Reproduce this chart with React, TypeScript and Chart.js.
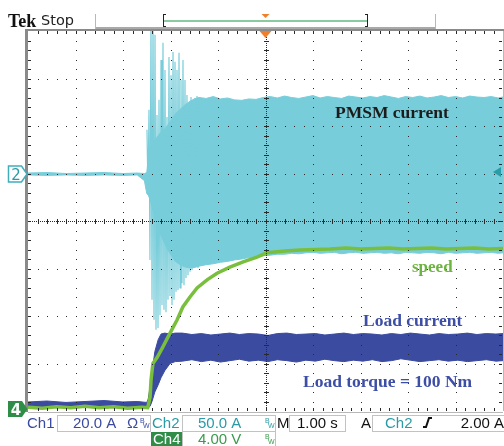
import React, { useEffect, useRef } from 'react';
import { Chart, registerables } from 'chart.js';

Chart.register(...registerables);

// Horizontal: 1.00 s/div, 10 divisions, trigger point at the centre
const TIME_MIN = -5;
const TIME_MAX = 5;
// Vertical: screen divisions, 8 divisions, centre line = 0
const DIV_MIN = -4;
const DIV_MAX = 4;

// Ch2 – PMSM phase current, envelope of the fast oscillation (div)
const PMSM_T = [
  -5.0, -4.6, -4.2, -3.8, -3.4, -3.0, -2.7, -2.55, -2.5,
  -2.47, -2.43, -2.33, -2.22, -2.11, -2.0, -1.9, -1.8, -1.69, -1.59, -1.5,
  -1.4, -1.25, -1.1, -0.95, -0.8, -0.65, -0.5, -0.35, -0.2, -0.05,
  0.1, 0.25, 0.4, 0.55, 0.7, 0.85, 1.0, 1.15, 1.3, 1.45,
  1.6, 1.75, 1.9, 2.05, 2.2, 2.35, 2.5, 2.65, 2.8, 2.95,
  3.1, 3.25, 3.4, 3.55, 3.7, 3.85, 4.0, 4.15, 4.3, 4.45,
  4.6, 4.75, 4.9, 5.0,
];
const PMSM_HI = [
  1.01, 1.02, 1.0, 1.01, 1.02, 1.0, 1.01, 1.0, 1.02,
  1.3, 1.45, 1.7, 1.85, 1.95, 2.1, 2.25, 2.35, 2.45, 2.52, 2.57,
  2.6, 2.58, 2.62, 2.57, 2.59, 2.55, 2.54, 2.57, 2.56, 2.6,
  2.62, 2.59, 2.63, 2.6, 2.58, 2.61, 2.64, 2.59, 2.62, 2.6,
  2.58, 2.63, 2.61, 2.59, 2.62, 2.6, 2.64, 2.61, 2.58, 2.62,
  2.6, 2.63, 2.59, 2.61, 2.64, 2.6, 2.62, 2.59, 2.63, 2.61,
  2.6, 2.62, 2.59, 2.61,
];
const PMSM_LO = [
  0.97, 0.96, 0.97, 0.96, 0.97, 0.96, 0.97, 0.85, 0.58,
  0.55, 0.45, 0.1, -0.25, -0.5, -0.7, -0.85, -0.92, -0.97, -0.99, -0.98,
  -0.95, -0.92, -0.9, -0.87, -0.85, -0.82, -0.8, -0.77, -0.75, -0.73,
  -0.72, -0.7, -0.7, -0.68, -0.69, -0.67, -0.66, -0.68, -0.67, -0.66,
  -0.69, -0.67, -0.66, -0.68, -0.67, -0.66, -0.68, -0.67, -0.69, -0.66,
  -0.67, -0.68, -0.66, -0.67, -0.69, -0.66, -0.68, -0.67, -0.66, -0.68,
  -0.67, -0.66, -0.68, -0.67,
];

// Ch2 – start-up burst, successive peaks of the oscillation (div)
const BURST_T = [
  -2.495, -2.474, -2.453, -2.432, -2.411, -2.389, -2.368, -2.347, -2.326, -2.305,
  -2.284, -2.263, -2.242, -2.221, -2.2, -2.179, -2.158, -2.137, -2.116, -2.095,
  -2.074, -2.053, -2.032, -2.011, -1.989, -1.968, -1.947, -1.926, -1.905, -1.884,
  -1.863, -1.842, -1.821, -1.8, -1.779, -1.758, -1.737, -1.716, -1.695, -1.674,
  -1.653, -1.632, -1.611, -1.589, -1.568, -1.547, -1.526, -1.505, -1.484, -1.463,
  -1.442, -1.421, -1.4, -1.379,
];
const BURST_V = [
  1.92, 0.55, 2.34, -0.82, 4.2, -1.66, 4.2, -2.08, 3.92, -2.29,
  2.23, -2.25, 2.55, -1.98, 3.39, -1.77, 3.75, -1.87, 3.18, -1.92,
  2.19, -1.66, 3.45, -1.58, 3.07, -1.77, 3.56, -1.66, 3.35, -1.49,
  3.18, -1.45, 3.54, -1.41, 2.97, -1.31, 3.39, -1.35, 2.97, -1.2,
  2.65, -1.14, 2.34, -1.07, 2.61, -1.03, 2.13, -0.99, 2.59, -0.95,
  2.63, -0.99, 2.55, -0.93,
];

// Ch4 – speed (div)
const SPEED_T = [
  -5.0, -4.7, -4.4, -4.1, -3.8, -3.5, -3.2, -2.9, -2.6, -2.48,
  -2.45, -2.43, -2.41, -2.37, -2.28, -2.16, -2.01, -1.86, -1.74, -1.59,
  -1.44, -1.23, -1.02, -0.75, -0.47, -0.18, 0.03, 0.41, 0.73, 1.05,
  1.36, 1.7, 2.0, 2.3, 2.6, 2.9, 3.2, 3.5, 3.8, 4.1,
  4.4, 4.7, 5.0,
];
const SPEED_V = [
  -3.92, -3.94, -3.91, -3.93, -3.9, -3.93, -3.91, -3.94, -3.92, -3.93,
  -3.8, -3.7, -3.35, -3.0, -2.87, -2.65, -2.36, -2.08, -1.81, -1.6,
  -1.41, -1.24, -1.1, -0.97, -0.86, -0.76, -0.67, -0.63, -0.61, -0.6,
  -0.59, -0.57, -0.59, -0.58, -0.57, -0.59, -0.58, -0.57, -0.59, -0.58,
  -0.57, -0.59, -0.58,
];

// Ch1 – load current, envelope (div)
const LOAD_T = [
  -5.0, -4.6, -4.2, -3.8, -3.4, -3.0, -2.7, -2.5,
  -2.47, -2.43, -2.39, -2.33, -2.26, -2.2, -2.12, -2.01, -1.9,
  -1.75, -1.55, -1.35, -1.15, -0.95, -0.75, -0.55, -0.35, -0.15, 0.05,
  0.25, 0.45, 0.65, 0.85, 1.05, 1.25, 1.45, 1.65, 1.85, 2.05,
  2.25, 2.45, 2.65, 2.85, 3.05, 3.25, 3.45, 3.65, 3.85, 4.05,
  4.25, 4.45, 4.65, 4.85, 5.0,
];
const LOAD_HI = [
  -3.81, -3.79, -3.82, -3.8, -3.78, -3.81, -3.8, -3.82,
  -3.75, -3.5, -3.2, -2.75, -2.5, -2.38, -2.36, -2.38, -2.36,
  -2.36, -2.39, -2.37, -2.4, -2.38, -2.36, -2.39, -2.37, -2.38, -2.41,
  -2.37, -2.36, -2.39, -2.38, -2.37, -2.4, -2.38, -2.36, -2.39, -2.37,
  -2.38, -2.4, -2.37, -2.39, -2.36, -2.38, -2.4, -2.37, -2.39, -2.38,
  -2.36, -2.39, -2.37, -2.38, -2.37,
];
const LOAD_LO = [
  -3.91, -3.92, -3.9, -3.92, -3.91, -3.9, -3.92, -3.91,
  -3.93, -3.9, -3.8, -3.6, -3.45, -3.3, -3.15, -3.0, -2.96,
  -2.95, -2.92, -2.96, -2.93, -2.97, -2.94, -2.91, -2.95, -2.93, -2.96,
  -2.92, -2.94, -2.97, -2.93, -2.95, -2.91, -2.94, -2.96, -2.93, -2.95,
  -2.92, -2.96, -2.94, -2.9, -2.93, -2.96, -2.94, -2.92, -2.95, -2.93,
  -2.96, -2.94, -2.92, -2.95, -2.94,
];

const TEAL = '#78CDDA';
const GREEN = '#79BF3D';
const BLUE = '#3B4B9F';

const pts = (t: number[], v: number[]) => t.map((x, i) => ({ x, y: v[i] }));

const SERIF = '"Liberation Serif", "Times New Roman", serif';
const SANS = '"Liberation Sans", Arial, sans-serif';

const scopeFace = {
  id: 'scopeFace',
  afterDatasetsDraw(chart: any) {
    const ctx: CanvasRenderingContext2D = chart.ctx;
    const { left: L, right: R, top: T, bottom: B } = chart.chartArea;
    const dx = (R - L) / 10;
    const dy = (B - T) / 8;
    const px = (x: number, y: number, w = 1, h = 1) =>
      ctx.fillRect(Math.round(x), Math.round(y), w, h);
    const text = (s: string, x: number, y: number, font: string, color: string, align: CanvasTextAlign = 'left') => {
      ctx.font = font;
      ctx.fillStyle = color;
      ctx.textAlign = align;
      ctx.textBaseline = 'alphabetic';
      ctx.fillText(s, x, y);
    };
    ctx.save();

    // frame
    ctx.fillStyle = '#8a8a8a';
    ctx.fillRect(L - 3, T - 2, R - L + 4, 2);
    ctx.fillRect(L - 3, T - 2, 3, B - T + 3);
    ctx.fillStyle = '#b8b8b8';
    ctx.fillRect(R, T, 1, B - T);
    ctx.fillRect(L, B + 1, R - L, 1);

    // graticule
    ctx.fillStyle = '#2a2a2a';
    for (let i = 1; i < 10; i++) {
      if (i === 5) continue;
      for (let k = 1; k < 40; k++) px(L + i * dx, T + (k * dy) / 5);
    }
    for (let j = 1; j < 8; j++) {
      if (j === 4) continue;
      for (let k = 1; k < 50; k++) px(L + (k * dx) / 5, T + j * dy);
    }
    const cx = L + 5 * dx;
    const cy = T + 4 * dy;
    for (let y = T; y < B; y += 2) px(cx, y);
    for (let x = L; x < R; x += 2) px(x, cy);
    for (let k = 1; k < 40; k++) px(cx - 2, T + (k * dy) / 5, 5, 1);
    for (let k = 1; k < 50; k++) px(L + (k * dx) / 5, cy - 2, 1, 5);
    for (let k = 1; k < 50; k++) {
      px(L + (k * dx) / 5, T, 1, 3);
      px(L + (k * dx) / 5, B - 3, 1, 3);
    }
    for (let k = 1; k < 40; k++) {
      px(L, T + (k * dy) / 5, 3, 1);
      px(R - 4, T + (k * dy) / 5, 3, 1);
    }

    // trigger position marker
    ctx.fillStyle = '#F07F2C';
    ctx.beginPath();
    ctx.moveTo(cx - 6, T);
    ctx.lineTo(cx + 6, T);
    ctx.lineTo(cx, T + 7);
    ctx.closePath();
    ctx.fill();

    // trigger level marker (Ch2, 2.00 A)
    const lvlY = chart.scales.y.getPixelForValue(1.03);
    ctx.fillStyle = '#2A9CA8';
    ctx.beginPath();
    ctx.moveTo(R - 2, lvlY - 5);
    ctx.lineTo(R - 2, lvlY + 5);
    ctx.lineTo(R - 10, lvlY);
    ctx.closePath();
    ctx.fill();

    // channel ground markers
    const g2 = chart.scales.y.getPixelForValue(0.99);
    ctx.beginPath();
    ctx.moveTo(8.5, g2 - 8);
    ctx.lineTo(21.5, g2 - 8);
    ctx.lineTo(27, g2);
    ctx.lineTo(21.5, g2 + 8);
    ctx.lineTo(8.5, g2 + 8);
    ctx.closePath();
    ctx.fillStyle = '#ffffff';
    ctx.fill();
    ctx.strokeStyle = '#3FAEBB';
    ctx.lineWidth = 1.5;
    ctx.stroke();
    text('2', 16, g2 + 6, '15px "DejaVu Sans", sans-serif', '#2A9CA8', 'center');

    const g4 = chart.scales.y.getPixelForValue(-3.96);
    ctx.beginPath();
    ctx.moveTo(8, g4 - 8);
    ctx.lineTo(22, g4 - 8);
    ctx.lineTo(27.5, g4);
    ctx.lineTo(22, g4 + 8);
    ctx.lineTo(8, g4 + 8);
    ctx.closePath();
    ctx.fillStyle = '#2E8E47';
    ctx.fill();
    text('4', 16, g4 + 6, 'bold 15px "DejaVu Sans", sans-serif', '#ffffff', 'center');

    // trace labels
    text('PMSM current', 335, 118, `bold 17.5px ${SERIF}`, '#1c1c1c');
    text('speed', 412, 272, `bold 17px ${SERIF}`, '#6DB33F');
    text('Load current', 363, 326, `bold 17.5px ${SERIF}`, '#3D4EA6');
    text('Load torque = 100 Nm', 303, 387, `bold 17.5px ${SERIF}`, '#3D4EA6');

    // status line
    text('Tek', 8, 27, `bold 18px ${SERIF}`, '#111111');
    text('Stop', 41, 25, '14.5px "DejaVu Sans", sans-serif', '#222222');
    ctx.fillStyle = '#a9a9a9';
    ctx.fillRect(96, 27, 340, 2);
    ctx.fillStyle = '#b8b8b8';
    ctx.fillRect(95, 14, 1, 15);
    ctx.fillRect(435, 14, 1, 15);
    ctx.fillStyle = '#8CC9A0';
    ctx.fillRect(164, 20, 203, 2);
    ctx.fillStyle = '#222222';
    ctx.fillRect(163, 14, 1, 13);
    ctx.fillRect(163, 14, 3, 1);
    ctx.fillRect(163, 26, 3, 1);
    ctx.fillRect(367, 14, 1, 13);
    ctx.fillRect(365, 14, 3, 1);
    ctx.fillRect(365, 26, 3, 1);
    ctx.fillStyle = '#F07F2C';
    ctx.beginPath();
    ctx.moveTo(261.5, 14);
    ctx.lineTo(269.5, 14);
    ctx.lineTo(265.5, 18);
    ctx.closePath();
    ctx.fill();

    // readout boxes
    ctx.strokeStyle = '#c2c2c2';
    ctx.lineWidth = 1;
    ctx.strokeRect(57.5, 415.5, 93, 16);
    ctx.strokeRect(182.5, 415.5, 93, 16);
    ctx.strokeRect(289.5, 415.5, 56, 16);
    ctx.strokeRect(372.5, 415.5, 133, 16);
    ctx.strokeRect(182.5, 431.5, 93, 16);

    const F = `15px ${SANS}`;
    const bw = (x: number, y: number, c: string) => {
      text('B', x, y - 5, `7px ${SANS}`, c);
      text('W', x + 3, y, `7px ${SANS}`, c);
    };
    text('Ch1', 27, 428, F, '#3B4AA0');
    text('20.0 A', 73, 428, F, '#3B4AA0');
    text('\u03A9', 127, 428, F, '#3B4AA0');
    bw(140, 428, '#3B4AA0');
    text('Ch2', 152, 428, F, '#2A9BA6');
    text('50.0 A', 198, 428, F, '#2A9BA6');
    bw(265, 428, '#2A9BA6');
    text('M', 277, 428, F, '#111111');
    text('1.00 s', 297, 428, F, '#111111');
    text('A', 361, 428, F, '#111111');
    text('Ch2', 385, 428, F, '#2A9BA6');
    ctx.strokeStyle = '#111111';
    ctx.lineWidth = 2;
    ctx.beginPath();
    ctx.moveTo(423, 427);
    ctx.lineTo(426, 427);
    ctx.lineTo(429, 418);
    ctx.lineTo(432, 418);
    ctx.stroke();
    text('2.00 A', 504, 428, F, '#111111', 'right');

    ctx.fillStyle = '#2E8E47';
    ctx.fillRect(151, 432, 31, 14);
    text('Ch4', 153, 444, F, '#ffffff');
    text('4.00 V', 198, 444, F, '#3A9B4C');
    bw(265, 444, '#3A9B4C');

    ctx.restore();
  },
};

export default function App() {
  const canvasRef = useRef<HTMLCanvasElement | null>(null);

  useEffect(() => {
    const canvas = canvasRef.current;
    if (!canvas) return;
    const chart = new Chart(canvas, {
      type: 'line',
      data: {
        datasets: [
          {
            label: 'speed',
            data: pts(SPEED_T, SPEED_V),
            borderColor: GREEN,
            borderWidth: 3.5,
            fill: false,
            order: 0,
          },
          {
            label: 'load current max',
            data: pts(LOAD_T, LOAD_HI),
            borderColor: BLUE,
            backgroundColor: BLUE,
            borderWidth: 1,
            fill: '+1',
            order: 1,
          },
          {
            label: 'load current min',
            data: pts(LOAD_T, LOAD_LO),
            borderColor: BLUE,
            borderWidth: 1,
            fill: false,
            order: 1,
          },
          {
            label: 'PMSM start-up',
            data: pts(BURST_T, BURST_V),
            borderColor: TEAL,
            borderWidth: 1.2,
            fill: false,
            order: 2,
          },
          {
            label: 'PMSM current max',
            data: pts(PMSM_T, PMSM_HI),
            borderColor: TEAL,
            backgroundColor: TEAL,
            borderWidth: 1,
            fill: '+1',
            order: 3,
          },
          {
            label: 'PMSM current min',
            data: pts(PMSM_T, PMSM_LO),
            borderColor: TEAL,
            borderWidth: 1,
            fill: false,
            order: 3,
          },
        ],
      },
      options: {
        responsive: false,
        animation: false,
        devicePixelRatio: 1,
        layout: { padding: { left: 28, top: 31, right: 1, bottom: 35 } },
        elements: { point: { radius: 0 }, line: { tension: 0 } },
        plugins: { legend: { display: false }, tooltip: { enabled: false } },
        scales: {
          x: { type: 'linear', min: TIME_MIN, max: TIME_MAX, display: false },
          y: { type: 'linear', min: DIV_MIN, max: DIV_MAX, display: false },
        },
      },
      plugins: [scopeFace],
    });
    return () => chart.destroy();
  }, []);

  return (
    <div style={{ position: 'absolute', left: 0, top: 0, width: 504, height: 446, background: '#ffffff' }}>
      <canvas ref={canvasRef} width={504} height={446} style={{ display: 'block' }} />
    </div>
  );
}
